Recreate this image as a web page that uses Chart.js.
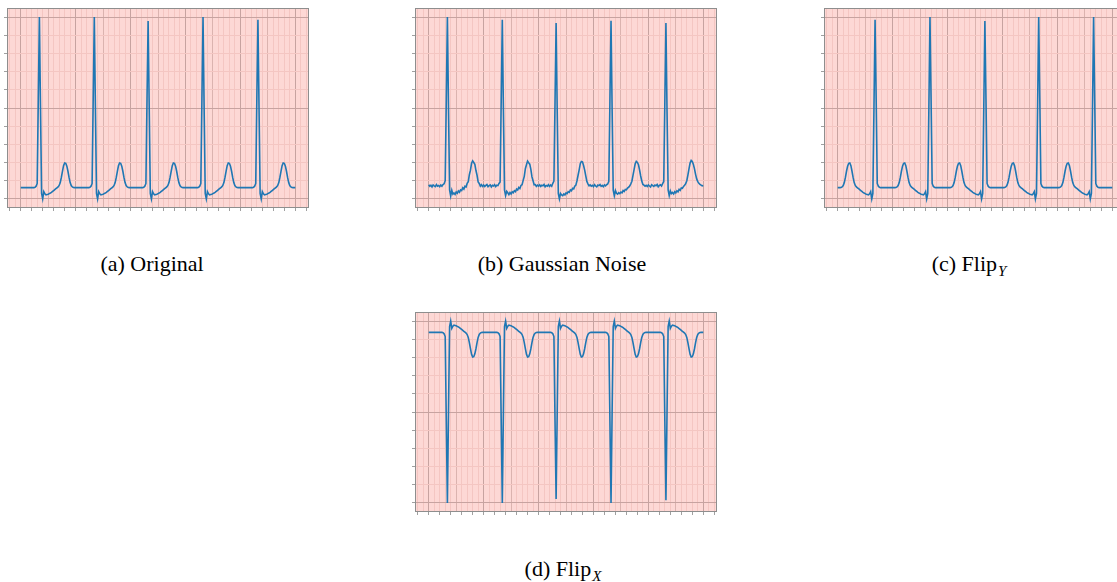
<!DOCTYPE html>
<html><head><meta charset="utf-8">
<script src="https://cdn.jsdelivr.net/npm/chart.js@4.4.1/dist/chart.umd.min.js"></script>
<style>
html,body{margin:0;padding:0;background:#fff;width:1117px;height:582px;overflow:hidden;position:relative;}
canvas{position:absolute;}
.cap{position:absolute;font-family:"Liberation Serif","Times New Roman",serif;font-size:22px;line-height:22px;color:#000;white-space:nowrap;transform:translateX(-50%);}
.sub{font-style:italic;font-size:15px;position:relative;top:5px;margin-left:1px;}
</style></head><body>
<canvas id="ca" width="307" height="205" style="left:3px;top:7px"></canvas>
<canvas id="cb" width="307" height="205" style="left:411px;top:7px"></canvas>
<canvas id="cc" width="307" height="205" style="left:820px;top:7px"></canvas>
<canvas id="cd" width="307" height="205" style="left:411px;top:311px"></canvas>
<div class="cap" style="left:152px;top:253px">(a) Original</div>
<div class="cap" style="left:562px;top:253px">(b) Gaussian Noise</div>
<div class="cap" style="left:969px;top:253px">(c) Flip<span class="sub">Y</span></div>
<div class="cap" style="left:563px;top:558px">(d) Flip<span class="sub">X</span></div>
<script>
// ---- data (samples, 50 per x unit) ----
const samplesPerUnit = 50;

const ecgOriginal = [
0.062,0.062,0.062,0.062,0.062,0.062,0.062,0.062,0.062,0.062,0.062,0.062,
0.062,0.064,0.07,0.085,0.55,1.0,0.5,0.03,0.0,0.04,0.028,0.022,0.024,0.026,0.029,0.032,0.036,0.041,0.046,0.051,0.056,0.061,0.066,0.074,0.09,0.118,0.152,0.183,0.198,0.196,0.18,0.152,0.118,0.09,0.073,0.066,0.063,0.062,
0.062,0.062,0.062,0.062,0.062,0.062,0.062,0.062,0.062,0.062,0.062,0.062,
0.062,0.064,0.07,0.085,0.55,1.0,0.5,0.03,0.0,0.04,0.028,0.022,0.024,0.026,0.029,0.032,0.036,0.041,0.046,0.051,0.056,0.061,0.066,0.074,0.09,0.118,0.152,0.183,0.198,0.196,0.18,0.152,0.118,0.09,0.073,0.066,0.063,0.062,
0.062,0.062,0.062,0.062,0.062,0.062,0.062,0.062,0.062,0.062,0.062,
0.062,0.064,0.07,0.085,0.55,0.978,0.5,0.03,0.0,0.04,0.028,0.022,0.024,0.026,0.029,0.032,0.036,0.041,0.046,0.051,0.056,0.061,0.066,0.074,0.09,0.118,0.152,0.183,0.198,0.196,0.18,0.152,0.118,0.09,0.073,0.066,0.063,0.062,
0.062,0.062,0.062,0.062,0.062,0.062,0.062,0.062,0.062,0.062,0.062,0.062,
0.062,0.064,0.07,0.085,0.55,1.0,0.5,0.03,0.0,0.04,0.028,0.022,0.024,0.026,0.029,0.032,0.036,0.041,0.046,0.051,0.056,0.061,0.066,0.074,0.09,0.118,0.152,0.183,0.198,0.196,0.18,0.152,0.118,0.09,0.073,0.066,0.063,0.062,
0.062,0.062,0.062,0.062,0.062,0.062,0.062,0.062,0.062,0.062,0.062,0.062,
0.062,0.064,0.07,0.085,0.55,0.986,0.5,0.03,0.0,0.04,0.028,0.022,0.024,0.026,0.029,0.032,0.036,0.041,0.046,0.051,0.056,0.061,0.066,0.074,0.09,0.118,0.152,0.183,0.198,0.196,0.18,0.152,0.118,0.09,0.073,0.066,0.063,0.062,
0.062,0.062
];

const ecgGaussianNoise = [
0.078,0.069,0.075,0.066,0.077,0.072,0.068,0.079,0.07,0.074,0.067,0.076,
0.07,0.079,0.083,0.1,0.55,1.0,0.5,0.05,0.016,0.048,0.026,0.033,0.025,0.038,0.031,0.044,0.037,0.05,0.046,0.061,0.054,0.07,0.066,0.085,0.095,0.133,0.158,0.196,0.209,0.2,0.19,0.156,0.13,0.093,0.085,0.07,0.078,0.069,
0.076,0.068,0.074,0.079,0.067,0.073,0.077,0.066,0.075,0.071,0.078,0.068,
0.075,0.073,0.085,0.093,0.54,0.985,0.49,0.05,0.018,0.042,0.034,0.024,0.035,0.027,0.039,0.034,0.045,0.04,0.054,0.049,0.063,0.057,0.074,0.078,0.102,0.124,0.166,0.188,0.208,0.199,0.191,0.163,0.121,0.1,0.078,0.079,0.069,0.076,
0.07,0.077,0.068,0.075,0.072,0.079,0.067,0.074,0.07,0.078,0.069,
0.077,0.07,0.086,0.098,0.53,0.967,0.48,0.03,0.0,0.03,0.022,0.018,0.027,0.022,0.033,0.029,0.04,0.036,0.049,0.045,0.058,0.055,0.07,0.076,0.1,0.13,0.16,0.194,0.206,0.204,0.184,0.158,0.127,0.096,0.083,0.072,0.077,0.07,
0.075,0.068,0.078,0.071,0.066,0.076,0.073,0.079,0.069,0.074,0.067,0.077,
0.072,0.078,0.082,0.097,0.54,0.98,0.49,0.048,0.017,0.046,0.031,0.026,0.034,0.029,0.037,0.033,0.046,0.041,0.052,0.05,0.06,0.064,0.071,0.083,0.097,0.129,0.161,0.193,0.207,0.201,0.188,0.159,0.126,0.098,0.08,0.076,0.07,0.075,
0.068,0.077,0.071,0.066,0.078,0.073,0.069,0.076,0.072,0.079,0.067,0.074,
0.078,0.071,0.084,0.096,0.53,0.967,0.48,0.05,0.018,0.044,0.029,0.035,0.027,0.04,0.033,0.045,0.039,0.053,0.047,0.06,0.058,0.069,0.075,0.084,0.1,0.131,0.165,0.197,0.212,0.206,0.19,0.165,0.135,0.11,0.095,0.086,0.08,0.076,
0.072,0.074
];

const ecgFlipY = [
0.062,0.062,
0.062,0.063,0.066,0.073,0.09,0.118,0.152,0.18,0.196,0.198,0.183,0.152,0.118,0.09,0.074,0.066,0.061,0.056,0.051,0.046,0.041,0.036,0.032,0.029,0.026,0.024,0.022,0.028,0.04,0.0,0.03,0.5,0.986,0.55,0.085,0.07,0.064,0.062,
0.062,0.062,0.062,0.062,0.062,0.062,0.062,0.062,0.062,0.062,0.062,0.062,
0.062,0.063,0.066,0.073,0.09,0.118,0.152,0.18,0.196,0.198,0.183,0.152,0.118,0.09,0.074,0.066,0.061,0.056,0.051,0.046,0.041,0.036,0.032,0.029,0.026,0.024,0.022,0.028,0.04,0.0,0.03,0.5,1.0,0.55,0.085,0.07,0.064,0.062,
0.062,0.062,0.062,0.062,0.062,0.062,0.062,0.062,0.062,0.062,0.062,0.062,
0.062,0.063,0.066,0.073,0.09,0.118,0.152,0.18,0.196,0.198,0.183,0.152,0.118,0.09,0.074,0.066,0.061,0.056,0.051,0.046,0.041,0.036,0.032,0.029,0.026,0.024,0.022,0.028,0.04,0.0,0.03,0.5,0.978,0.55,0.085,0.07,0.064,0.062,
0.062,0.062,0.062,0.062,0.062,0.062,0.062,0.062,0.062,0.062,0.062,
0.062,0.063,0.066,0.073,0.09,0.118,0.152,0.18,0.196,0.198,0.183,0.152,0.118,0.09,0.074,0.066,0.061,0.056,0.051,0.046,0.041,0.036,0.032,0.029,0.026,0.024,0.022,0.028,0.04,0.0,0.03,0.5,1.0,0.55,0.085,0.07,0.064,0.062,
0.062,0.062,0.062,0.062,0.062,0.062,0.062,0.062,0.062,0.062,0.062,0.062,
0.062,0.063,0.066,0.073,0.09,0.118,0.152,0.18,0.196,0.198,0.183,0.152,0.118,0.09,0.074,0.066,0.061,0.056,0.051,0.046,0.041,0.036,0.032,0.029,0.026,0.024,0.022,0.028,0.04,0.0,0.03,0.5,1.0,0.55,0.085,0.07,0.064,0.062,
0.062,0.062,0.062,0.062,0.062,0.062,0.062,0.062,0.062,0.062,0.062,0.062
];

const ecgFlipX = [
0.938,0.938,0.938,0.938,0.938,0.938,0.938,0.938,0.938,0.938,0.938,0.938,
0.938,0.936,0.93,0.915,0.45,0.0,0.5,0.97,1.0,0.96,0.972,0.978,0.976,0.974,0.971,0.968,0.964,0.959,0.954,0.949,0.944,0.939,0.934,0.926,0.91,0.882,0.848,0.817,0.802,0.804,0.82,0.848,0.882,0.91,0.927,0.934,0.937,0.938,
0.938,0.938,0.938,0.938,0.938,0.938,0.938,0.938,0.938,0.938,0.938,0.938,
0.938,0.936,0.93,0.915,0.45,0.0,0.5,0.97,1.0,0.96,0.972,0.978,0.976,0.974,0.971,0.968,0.964,0.959,0.954,0.949,0.944,0.939,0.934,0.926,0.91,0.882,0.848,0.817,0.802,0.804,0.82,0.848,0.882,0.91,0.927,0.934,0.937,0.938,
0.938,0.938,0.938,0.938,0.938,0.938,0.938,0.938,0.938,0.938,0.938,
0.938,0.936,0.93,0.915,0.45,0.022,0.5,0.97,1.0,0.96,0.972,0.978,0.976,0.974,0.971,0.968,0.964,0.959,0.954,0.949,0.944,0.939,0.934,0.926,0.91,0.882,0.848,0.817,0.802,0.804,0.82,0.848,0.882,0.91,0.927,0.934,0.937,0.938,
0.938,0.938,0.938,0.938,0.938,0.938,0.938,0.938,0.938,0.938,0.938,0.938,
0.938,0.936,0.93,0.915,0.45,0.0,0.5,0.97,1.0,0.96,0.972,0.978,0.976,0.974,0.971,0.968,0.964,0.959,0.954,0.949,0.944,0.939,0.934,0.926,0.91,0.882,0.848,0.817,0.802,0.804,0.82,0.848,0.882,0.91,0.927,0.934,0.937,0.938,
0.938,0.938,0.938,0.938,0.938,0.938,0.938,0.938,0.938,0.938,0.938,0.938,
0.938,0.936,0.93,0.915,0.45,0.014,0.5,0.97,1.0,0.96,0.972,0.978,0.976,0.974,0.971,0.968,0.964,0.959,0.954,0.949,0.944,0.939,0.934,0.926,0.91,0.882,0.848,0.817,0.802,0.804,0.82,0.848,0.882,0.91,0.927,0.934,0.937,0.938,
0.938,0.938
];

// axis settings
const xRange = [-0.25, 5.25];
const yRange = [-0.05, 1.05];
const xMajorStep = 1, xMidStep = 0.5, xMinorStep = 0.1, xTickMarkStep = 1/15;
const yMajorStep = 0.5, yMinorStep = 0.1;

// ---- styling ----
const BG = '#fdd8d5';
const MAJOR = '#c7a3a0';
const MID = '#dbb3af';
const MINOR = '#f4c6c2';
const TICK = '#a0a0a0';
const FRAME = '#8e8e8e';
const LINE = '#1f77b4';
const NONE = 'rgba(0,0,0,0)';

function isMult(v, step) {
  const r = v / step;
  return Math.abs(r - Math.round(r)) < 1e-6;
}
function buildTicks(lo, hi, steps) {
  const set = new Map();
  steps.forEach(st => {
    const k0 = Math.ceil(lo / st - 1e-9), k1 = Math.floor(hi / st + 1e-9);
    for (let k = k0; k <= k1; k++) {
      const v = +(k * st).toFixed(6);
      set.set(v.toFixed(5), v);
    }
  });
  return Array.from(set.values()).sort((a, b) => a - b).map(v => ({value: v}));
}

const panelPlugin = {
  id: 'panel',
  beforeDraw(chart) {
    const {ctx, chartArea: a} = chart;
    ctx.save();
    ctx.fillStyle = BG;
    ctx.fillRect(a.left, a.top, a.right - a.left, a.bottom - a.top);
    ctx.restore();
  },
  afterDraw(chart) {
    const {ctx, chartArea: a} = chart;
    ctx.save();
    ctx.strokeStyle = FRAME;
    ctx.lineWidth = 1;
    ctx.strokeRect(Math.round(a.left) + 0.5, Math.round(a.top) + 0.5,
                   Math.round(a.right - a.left) - 1, Math.round(a.bottom - a.top) - 1);
    ctx.restore();
  }
};

function makePanel(id, values) {
  const pts = values.map((v, i) => ({x: i / samplesPerUnit, y: v}));
  new Chart(document.getElementById(id), {
    type: 'line',
    data: {datasets: [{data: pts, borderColor: LINE, borderWidth: 1.6, pointRadius: 0, tension: 0, fill: false}]},
    options: {
      responsive: false, animation: false, devicePixelRatio: 1,
      events: [],
      layout: {padding: {top: 1, right: 1, left: 0, bottom: 0}},
      plugins: {legend: {display: false}, tooltip: {enabled: false}},
      scales: {
        x: {
          type: 'linear', min: xRange[0], max: xRange[1],
          afterBuildTicks: s => { s.ticks = buildTicks(xRange[0], xRange[1], [xMinorStep, xTickMarkStep]); },
          afterFit: s => { s.height = 4; },
          ticks: {display: false},
          border: {display: false},
          grid: {
            drawTicks: true, tickLength: 3, lineWidth: 1, tickWidth: 1,
            color: c => { const v = c.tick ? c.tick.value : NaN;
              if (isMult(v, xMajorStep)) return MAJOR;
              if (isMult(v, xMidStep)) return MID;
              if (isMult(v, xMinorStep)) return MINOR;
              return NONE; },
            tickColor: c => (c.tick && isMult(c.tick.value, xTickMarkStep)) ? TICK : NONE
          }
        },
        y: {
          type: 'linear', min: yRange[0], max: yRange[1],
          afterBuildTicks: s => { s.ticks = buildTicks(yRange[0], yRange[1], [yMinorStep]); },
          afterFit: s => { s.width = 4; },
          ticks: {display: false},
          border: {display: false},
          grid: {
            drawTicks: true, tickLength: 3, lineWidth: 1, tickWidth: 1,
            color: c => { const v = c.tick ? c.tick.value : NaN;
              if (isMult(v, yMajorStep)) return MAJOR;
              return MINOR; },
            tickColor: TICK
          }
        }
      }
    },
    plugins: [panelPlugin]
  });
}

makePanel('ca', ecgOriginal);
makePanel('cb', ecgGaussianNoise);
makePanel('cc', ecgFlipY);
makePanel('cd', ecgFlipX);
</script>
</body></html>
